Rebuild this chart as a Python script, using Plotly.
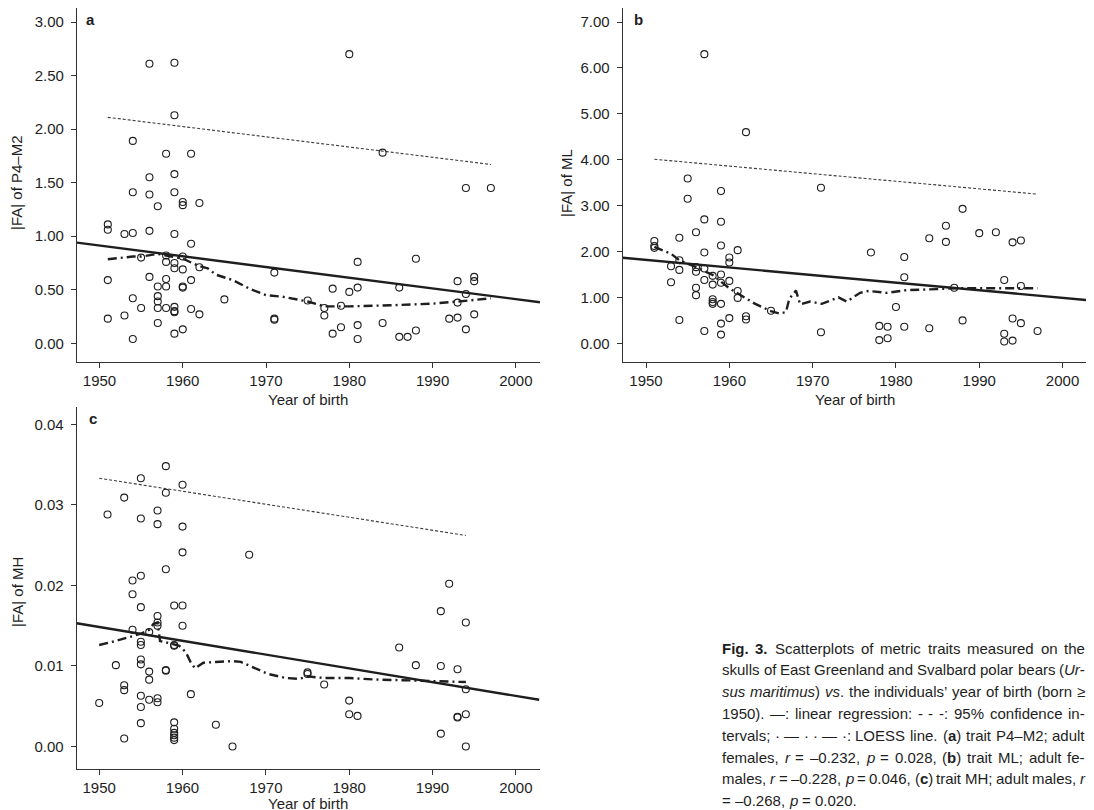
import plotly.graph_objects as go

W, H = 1094, 810
OFF = 8  # the page body margin shifts the figure by 8px

# ---------------- Panel a: |FA| of P4-M2 ----------------
a_year = [1956, 1959, 1959, 1954, 1958, 1961, 1956, 1959, 1954, 1956, 1959, 1980, 1984, 1994, 1997,
          1951, 1951, 1953, 1954, 1956, 1959, 1961, 1957, 1960, 1960, 1962,
          1955, 1958, 1958, 1959, 1959, 1960, 1960, 1962,
          1951, 1956, 1958, 1957, 1958, 1960, 1960, 1961,
          1954, 1955, 1957, 1957, 1957, 1958, 1959, 1959, 1959, 1961, 1962, 1965,
          1953, 1951, 1957, 1959, 1960, 1954,
          1971, 1971, 1971,
          1975, 1978, 1980, 1981, 1981, 1977, 1977, 1979, 1978, 1979, 1981, 1981, 1984, 1986, 1986, 1987,
          1988, 1988, 1992, 1993, 1993, 1993, 1994, 1994, 1995, 1995, 1995]
a_val = [2.61, 2.62, 2.13, 1.89, 1.77, 1.77, 1.55, 1.58, 1.41, 1.39, 1.41, 2.70, 1.78, 1.45, 1.45,
         1.11, 1.06, 1.02, 1.03, 1.05, 1.02, 0.93, 1.28, 1.32, 1.29, 1.31,
         0.80, 0.76, 0.82, 0.75, 0.70, 0.81, 0.69, 0.71,
         0.59, 0.62, 0.60, 0.53, 0.53, 0.53, 0.52, 0.59,
         0.42, 0.33, 0.44, 0.39, 0.33, 0.33, 0.34, 0.30, 0.29, 0.32, 0.27, 0.41,
         0.26, 0.23, 0.19, 0.09, 0.13, 0.04,
         0.66, 0.23, 0.22,
         0.40, 0.51, 0.48, 0.76, 0.52, 0.33, 0.26, 0.35, 0.09, 0.15, 0.17, 0.04, 0.19, 0.52, 0.06, 0.06,
         0.12, 0.79, 0.23, 0.24, 0.58, 0.38, 0.46, 0.13, 0.62, 0.58, 0.27]
reg_a_x = [1947.3, 2002.9]
reg_a_y = [0.94, 0.383]
ci_a_x = [1951, 1997]
ci_a_y = [2.11, 1.67]
loess_a_x = [1951, 1954, 1955, 1957, 1958, 1960, 1962, 1963, 1964, 1966, 1968, 1970, 1972, 1975, 1977,
             1980, 1985, 1990, 1993, 1997]
loess_a_y = [0.785, 0.81, 0.81, 0.835, 0.82, 0.79, 0.72, 0.70, 0.64, 0.59, 0.51, 0.45, 0.435, 0.39, 0.345,
             0.345, 0.355, 0.37, 0.39, 0.42]

# ---------------- Panel b: |FA| of ML ----------------
b_year = [1957, 1962, 1955, 1959, 1955, 1971,
          1951, 1951, 1951, 1954, 1956, 1957, 1959, 1957, 1959, 1960, 1960, 1961,
          1953, 1954, 1954, 1956, 1956, 1957, 1958, 1959, 1960, 1953, 1957, 1958, 1959, 1961, 1956, 1956,
          1961, 1958, 1958, 1958, 1959, 1962, 1962, 1960, 1954, 1959, 1957, 1959, 1965, 1971,
          1977, 1981, 1981, 1980, 1978, 1979, 1981, 1978, 1979, 1984, 1984, 1986, 1986, 1988, 1987, 1988,
          1990, 1992, 1994, 1995, 1993, 1995, 1994, 1995, 1993, 1993, 1994, 1997]
b_val = [6.30, 4.60, 3.59, 3.32, 3.15, 3.39,
         2.23, 2.12, 2.08, 2.30, 2.42, 2.70, 2.65, 1.98, 2.13, 1.87, 1.76, 2.03,
         1.68, 1.81, 1.60, 1.66, 1.56, 1.63, 1.47, 1.50, 1.36, 1.33, 1.38, 1.28, 1.32, 1.14, 1.21, 1.05,
         0.99, 0.96, 0.90, 0.86, 0.86, 0.59, 0.52, 0.55, 0.51, 0.43, 0.27, 0.19, 0.71, 0.24,
         1.98, 1.88, 1.44, 0.79, 0.38, 0.36, 0.36, 0.07, 0.11, 2.29, 0.33, 2.56, 2.21, 2.93, 1.21, 0.50,
         2.40, 2.42, 2.20, 2.24, 1.38, 1.25, 0.54, 0.44, 0.21, 0.04, 0.06, 0.27]
reg_b_x = [1947.2, 2002.9]
reg_b_y = [1.865, 0.943]
ci_b_x = [1951, 1997]
ci_b_y = [4.01, 3.25]
loess_b_x = [1951, 1953, 1954, 1956, 1958, 1959, 1960, 1961, 1963, 1965, 1966, 1966.8, 1967.2, 1968.0,
             1968.5, 1969.7, 1971.1, 1973.1, 1974.1, 1975.7, 1976.7, 1978.9, 1981.3, 1984.9, 1987.1,
             1990, 1997]
loess_b_y = [2.10, 1.95, 1.81, 1.66, 1.49, 1.34, 1.20, 1.09, 0.87, 0.70, 0.65, 0.68, 0.97, 1.15,
             0.85, 0.91, 0.86, 1.00, 0.91, 1.10, 1.14, 1.10, 1.16, 1.18, 1.20,
             1.20, 1.20]

# ---------------- Panel c: |FA| of MH ----------------
c_year = [1951, 1953, 1955, 1958, 1960, 1958, 1957, 1955, 1957, 1960, 1960, 1968, 1958, 1955, 1954, 1954,
          1950, 1952, 1953, 1953, 1953, 1954,
          1955, 1955, 1955, 1955, 1955, 1955, 1955, 1955,
          1956, 1956, 1956, 1956,
          1957, 1957, 1957, 1957, 1957,
          1958, 1958,
          1959, 1959, 1959, 1959, 1959, 1959, 1959, 1959, 1959,
          1960, 1960, 1961, 1964, 1966,
          1975, 1975, 1977, 1980, 1980, 1981,
          1986, 1988, 1991, 1991, 1991, 1992,
          1993, 1993, 1993, 1994, 1994, 1994, 1994]
c_val = [0.0288, 0.0309, 0.0333, 0.0348, 0.0325, 0.0315, 0.0293, 0.0283, 0.0276, 0.0273, 0.0241, 0.0238,
         0.0220, 0.0212, 0.0206, 0.0189,
         0.0054, 0.0101, 0.0076, 0.0070, 0.0010, 0.0145,
         0.0173, 0.0130, 0.0126, 0.0108, 0.0102, 0.0063, 0.0049, 0.0029,
         0.0142, 0.0093, 0.0083, 0.0058,
         0.0162, 0.0154, 0.0150, 0.0060, 0.0055,
         0.0095, 0.0094,
         0.0175, 0.0126, 0.0125, 0.0030, 0.0022, 0.0017, 0.0014, 0.0011, 0.0008,
         0.0175, 0.0150, 0.0065, 0.0027, 0.0000,
         0.0092, 0.0090, 0.0077, 0.0057, 0.0040, 0.0038,
         0.0123, 0.0101, 0.0168, 0.0100, 0.0016, 0.0202,
         0.0096, 0.0037, 0.0036, 0.0154, 0.0071, 0.0040, 0.0000]
reg_c_x = [1947.3, 2002.8]
reg_c_y = [0.0153, 0.0058]
ci_c_x = [1950, 1994]
ci_c_y = [0.0333, 0.0262]
loess_c_x = [1950, 1952, 1954, 1955, 1956, 1956.5, 1957, 1957.3, 1958.5, 1959, 1959.6, 1960.4, 1961,
             1961.5, 1962.5, 1964, 1966, 1967, 1968.6, 1970.3, 1972.4, 1974, 1975, 1977, 1980, 1983.5,
             1987.6, 1991, 1994]
loess_c_y = [0.0126, 0.0131, 0.0137, 0.0140, 0.0145, 0.0152, 0.0154, 0.0131, 0.0128, 0.0127, 0.0125,
             0.0117, 0.0104, 0.0097, 0.0104, 0.0105, 0.0106, 0.0105, 0.0098, 0.0090, 0.0085, 0.0084,
             0.0087, 0.0085, 0.0085, 0.0083, 0.0082, 0.0081, 0.0080]

x_ticks = [1950, 1960, 1970, 1980, 1990, 2000]
a_ticks = [0.0, 0.5, 1.0, 1.5, 2.0, 2.5, 3.0]
b_ticks = [0, 1, 2, 3, 4, 5, 6, 7]
c_ticks = [0.0, 0.01, 0.02, 0.03, 0.04]

caption = [
    "<b>Fig. 3.</b> Scatterplots of metric traits measured on the",
    "skulls of East Greenland and Svalbard polar bears (<i>Ur-</i>",
    "<i>sus maritimus</i>) <i>vs</i>. the individuals’ year of birth (born ≥",
    "1950). —: linear regression: - - -: 95% confidence in-",
    "tervals; · — · · — ·: LOESS line. (<b>a</b>) trait P4–M2; adult",
    "females, <i>r</i> = –0.232, <i>p</i> = 0.028, (<b>b</b>) trait ML; adult fe-",
    "males, <i>r</i> = –0.228, <i>p</i> = 0.046, (<b>c</b>) trait MH; adult males, <i>r</i>",
    "= –0.268, <i>p</i> = 0.020.",
]

FONT = "Liberation Sans, Arial, sans-serif"
INK = "#1e1e1e"

fig = go.Figure()

panels = [
    ("x", "y", a_year, a_val, reg_a_x, reg_a_y, ci_a_x, ci_a_y, loess_a_x, loess_a_y),
    ("x2", "y2", b_year, b_val, reg_b_x, reg_b_y, ci_b_x, ci_b_y, loess_b_x, loess_b_y),
    ("x3", "y3", c_year, c_val, reg_c_x, reg_c_y, ci_c_x, ci_c_y, loess_c_x, loess_c_y),
]
for xa, ya, px, pv, rx, ry, cx, cy, lx, ly in panels:
    fig.add_trace(go.Scatter(x=cx, y=cy, mode="lines", xaxis=xa, yaxis=ya,
                             line=dict(color="#3a3a3a", width=1.1, dash="3px,2px"), hoverinfo="skip"))
    fig.add_trace(go.Scatter(x=lx, y=ly, mode="lines", xaxis=xa, yaxis=ya,
                             line=dict(color=INK, width=2.4, dash="9px,4px,2px,4px"), hoverinfo="skip"))
    fig.add_trace(go.Scatter(x=rx, y=ry, mode="lines", xaxis=xa, yaxis=ya,
                             line=dict(color=INK, width=2.4)))
    fig.add_trace(go.Scatter(x=px, y=pv, mode="markers", xaxis=xa, yaxis=ya,
                             marker=dict(symbol="circle-open", size=7, color=INK,
                                         line=dict(width=1.1, color=INK))))


def X(p):
    return min(1.0, max(0.0, (p - OFF) / W))


def Y(p):
    return min(1.0, max(0.0, 1 - (p - OFF) / H))


axis_common = dict(showline=True, linecolor="#333", linewidth=1.2, ticks="outside", ticklen=5,
                   tickwidth=1.2, tickcolor="#333", showgrid=False, zeroline=False, mirror=False,
                   tickfont=dict(family=FONT, size=15, color=INK), fixedrange=True)
y_extra = dict(tickformat=".2f", ticklabelstandoff=4)

fig.update_layout(
    width=W, height=H, autosize=False,
    margin=dict(l=0, r=0, t=0, b=0),
    paper_bgcolor="white", plot_bgcolor="white",
    showlegend=False,
    xaxis=dict(domain=[X(77), X(540)], anchor="y", range=[1947.3, 2002.9], tickvals=x_ticks, **axis_common),
    yaxis=dict(domain=[Y(361.7), Y(8)], anchor="x", range=[-0.172, 3.131], tickvals=a_ticks,
               **y_extra, **axis_common),
    xaxis2=dict(domain=[X(622.7), X(1086.7)], anchor="y2", range=[1947.2, 2002.9], tickvals=x_ticks,
                **axis_common),
    yaxis2=dict(domain=[Y(361.7), Y(8)], anchor="x2", range=[-0.40, 7.305], tickvals=b_ticks,
                **y_extra, **axis_common),
    xaxis3=dict(domain=[X(76.7), X(540)], anchor="y3", range=[1947.3, 2002.9], tickvals=x_ticks,
                **axis_common),
    yaxis3=dict(domain=[Y(769), Y(406.7)], anchor="x3", range=[-0.00279, 0.04218], tickvals=c_ticks,
                **y_extra, **axis_common),
)

ann = []
for letter, xp, yp in [("a", 90, 19), ("b", 638, 19), ("c", 93, 418)]:
    ann.append(dict(text=f"<b>{letter}</b>", x=X(xp), y=Y(yp), xref="paper", yref="paper",
                    xanchor="center", yanchor="middle", showarrow=False,
                    font=dict(family=FONT, size=15, color=INK)))
for txt, xp, yp in [("|FA| of P4–M2", 17, 183), ("|FA| of ML", 567, 183), ("|FA| of MH", 17, 592)]:
    ann.append(dict(text=txt, x=X(xp), y=Y(yp), xref="paper", yref="paper", textangle=-90,
                    xanchor="center", yanchor="middle", showarrow=False,
                    font=dict(family=FONT, size=15, color=INK)))
for xp, yp in [(308, 399), (855, 399), (308, 803)]:
    ann.append(dict(text="Year of birth", x=X(xp), y=Y(yp), xref="paper", yref="paper",
                    xanchor="center", yanchor="middle", showarrow=False,
                    font=dict(family=FONT, size=15, color=INK)))

# ---- justified caption (Arial / Liberation Sans advance widths, 1/1000 em) ----
REG = {' ': 278, '.': 278, ',': 278, ';': 278, ':': 278, '(': 333, ')': 333, '-': 333, '–': 556,
       '—': 1000, '·': 278, '≥': 549, '’': 222, '=': 584, '%': 889}
for ch in '0123456789':
    REG[ch] = 556
REG.update(dict(zip('abcdefghijklmnopqrstuvwxyz',
                    [556, 556, 500, 556, 556, 278, 556, 556, 222, 222, 500, 222, 833, 556, 556, 556, 556,
                     333, 500, 278, 556, 500, 722, 500, 500, 500])))
REG.update(dict(zip('ABCDEFGHIJKLMNOPQRSTUVWXYZ',
                    [667, 667, 722, 722, 667, 611, 778, 722, 278, 500, 667, 556, 833, 722, 778, 667, 778,
                     722, 667, 611, 722, 667, 944, 667, 667, 611])))
BOLD = dict(REG)
BOLD.update({'b': 611, 'g': 611, 'i': 278, 'F': 611})

CAP_SIZE = 15
CAP_LEFT, CAP_RIGHT = 722, 1085
CAP_TOP, CAP_STEP = 648, 21.8


def parse_words(line):
    chars, b, it, k = [], False, False, 0
    while k < len(line):
        for tag, nb, ni, ln in (("<b>", True, None, 3), ("</b>", False, None, 4),
                                ("<i>", None, True, 3), ("</i>", None, False, 4)):
            if line.startswith(tag, k):
                if nb is not None:
                    b = nb
                if ni is not None:
                    it = ni
                k += ln
                break
        else:
            chars.append((line[k], b, it))
            k += 1
    words, cur = [], []
    for c in chars:
        if c[0] == ' ':
            if cur:
                words.append(cur)
                cur = []
        else:
            cur.append(c)
    if cur:
        words.append(cur)
    return words


def word_html(w):
    out, i = "", 0
    while i < len(w):
        j = i
        while j < len(w) and w[j][1:] == w[i][1:]:
            j += 1
        seg = "".join(c[0] for c in w[i:j])
        if w[i][2]:
            seg = f"<i>{seg}</i>"
        if w[i][1]:
            seg = f"<b>{seg}</b>"
        out += seg
        i = j
    return out


def word_width(w):
    return sum((BOLD if c[1] else REG).get(c[0], 556) for c in w) * CAP_SIZE / 1000.0


for li, line in enumerate(caption):
    words = parse_words(line)
    widths = [word_width(w) for w in words]
    if li < len(caption) - 1 and len(words) > 1:
        gap = (CAP_RIGHT - CAP_LEFT - sum(widths)) / (len(words) - 1)
    else:
        gap = REG[' '] * CAP_SIZE / 1000.0
    xpos = CAP_LEFT
    ypos = CAP_TOP + li * CAP_STEP
    for w, wd in zip(words, widths):
        ann.append(dict(text=word_html(w), x=X(xpos), y=Y(ypos), xref="paper", yref="paper",
                        xanchor="left", yanchor="middle", showarrow=False, borderpad=0, borderwidth=0,
                        font=dict(family=FONT, size=CAP_SIZE, color=INK)))
        xpos += wd + gap

fig.update_layout(annotations=ann)
fig.write_html("out.html")
